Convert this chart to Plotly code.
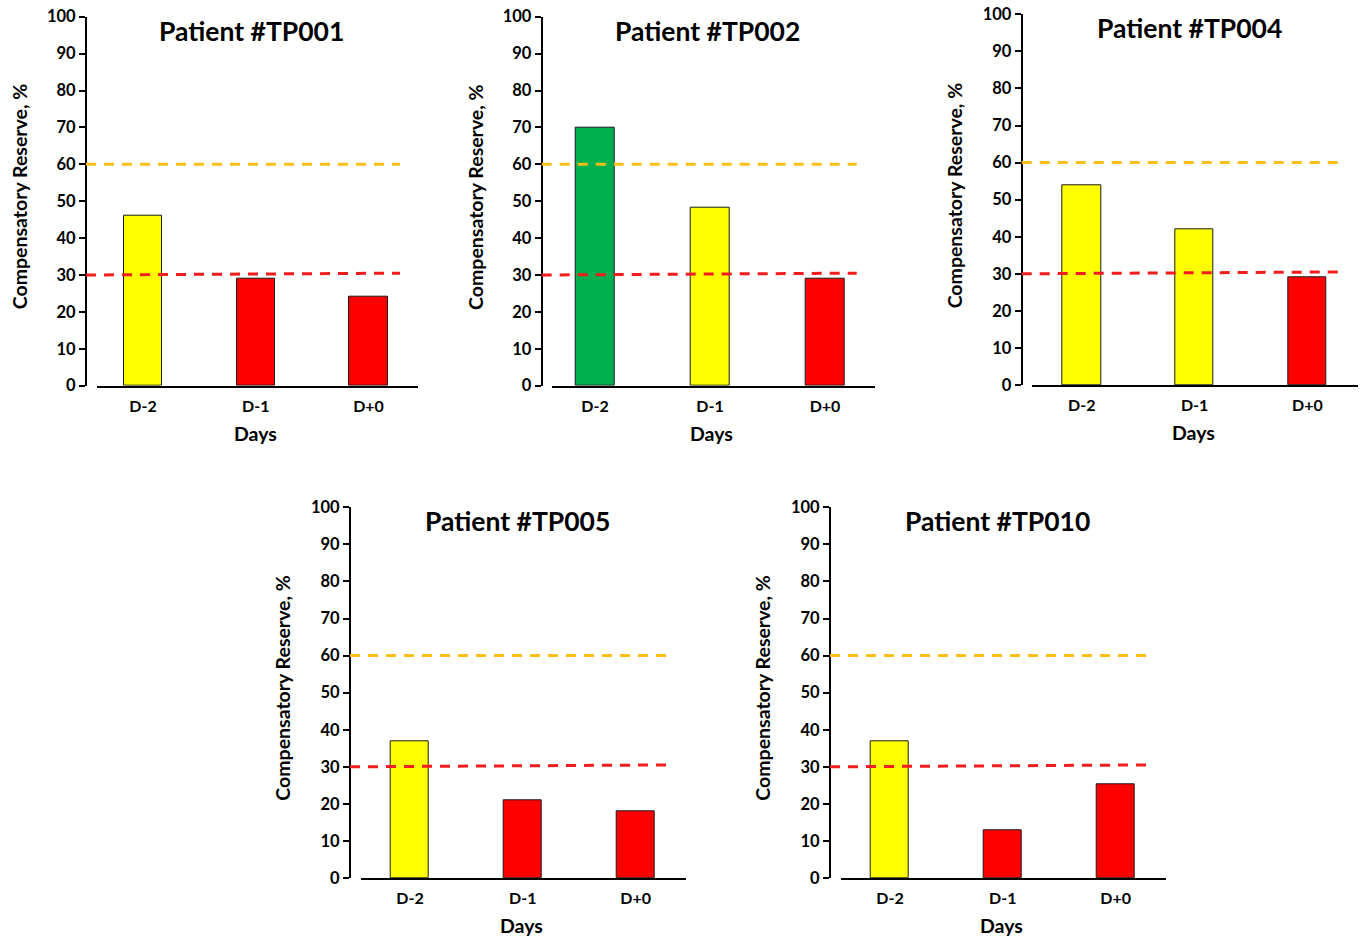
import plotly.graph_objects as go

# ---------------- data ----------------
days = ["D-2", "D-1", "D+0"]
patients = ["Patient #TP001", "Patient #TP002", "Patient #TP004", "Patient #TP005", "Patient #TP010"]
tp001 = [46.1, 29.1, 24.0]
tp002 = [70.0, 48.2, 29.1]
tp004 = [53.8, 42.1, 29.1]
tp005 = [36.8, 21.0, 17.9]
tp010 = [36.8, 12.9, 25.4]
series = [tp001, tp002, tp004, tp005, tp010]
y_ticks = [0, 10, 20, 30, 40, 50, 60, 70, 80, 90, 100]
upper_threshold = [60, 60]
lower_threshold = [30, 30.5]

# ---------------- styles / layout ----------------
W, H = 1367, 939
FONT = "Lato"
GREEN, YELLOW, RED = "#00B050", "#FFFF00", "#FF0000"
ORANGE_LINE, RED_LINE = "#FBBF16", "#F21C1C"


def bar_color(v):
    if v >= upper_threshold[0]:
        return GREEN
    if v >= lower_threshold[0]:
        return YELLOW
    return RED


# pixel geometry per panel
panels = [
    dict(yx=86, x0=97, x1=418, top=16.7, bot=385.7, lend=400, rng=(-0.408, 2.439)),
    dict(yx=541.7, x0=551.7, x1=875, top=16.7, bot=385.7, lend=856.7, rng=(-0.377, 2.435)),
    dict(yx=1021.7, x0=1032.3, x1=1357.7, top=14.3, bot=385, lend=1339.3, rng=(-0.439, 2.446)),
    dict(yx=350, x0=360.7, x1=686, top=507.3, bot=878, lend=666.7, rng=(-0.437, 2.447)),
    dict(yx=830, x0=840.7, x1=1166, top=507.3, bot=878, lend=1146.7, rng=(-0.437, 2.447)),
]

fig = go.Figure()
annotations = []
shapes = []
layout_axes = {}

for i, (name, vals, p) in enumerate(zip(patients, series, panels)):
    n = "" if i == 0 else str(i + 1)
    xa, ya = "x" + n, "y" + n
    fig.add_trace(go.Bar(
        x=[0, 1, 2], y=vals, width=0.34,
        marker=dict(color=[bar_color(v) for v in vals], line=dict(color="#1a1a1a", width=1)),
        xaxis=xa, yaxis=ya, showlegend=False, hoverinfo="x+y",
    ))
    layout_axes["xaxis" + n] = dict(
        domain=[p["x0"] / W, p["x1"] / W], anchor=ya, range=list(p["rng"]),
        tickvals=[0, 1, 2], ticktext=days, showline=True, linecolor="black", linewidth=2,
        ticks="", showgrid=False, zeroline=False, fixedrange=True, automargin=False,
        ticklabelstandoff=5,
        tickfont=dict(family=FONT, size=16, color="black", weight="bold"),
    )
    layout_axes["yaxis" + n] = dict(
        domain=[1 - p["bot"] / H, 1 - p["top"] / H], anchor="free", position=p["yx"] / W,
        range=[0, 100], tickvals=y_ticks, showline=True, linecolor="black", linewidth=2,
        ticks="outside", ticklen=6, tickwidth=2, tickcolor="black",
        showgrid=False, zeroline=False, fixedrange=True, automargin=False,
        tickfont=dict(family=FONT, size=16.5, color="black", weight="bold"),
    )
    # threshold lines
    shapes.append(dict(type="line", xref="paper", yref=ya, x0=p["yx"] / W, x1=p["lend"] / W,
                       y0=upper_threshold[0], y1=upper_threshold[1], layer="above",
                       line=dict(color=ORANGE_LINE, width=3, dash="10px,8px")))
    shapes.append(dict(type="line", xref="paper", yref=ya, x0=p["yx"] / W, x1=p["lend"] / W,
                       y0=lower_threshold[0], y1=lower_threshold[1], layer="above",
                       line=dict(color=RED_LINE, width=3, dash="10px,8px")))
    xc = (p["x0"] + p["x1"]) / 2
    # panel title
    annotations.append(dict(text="<b>" + name + "</b>", xref="paper", yref="paper",
                            x=(xc - 6) / W, y=1 - (p["top"] + 14) / H, xanchor="center", yanchor="middle",
                            showarrow=False, font=dict(family=FONT, size=26.5, color="black")))
    # y title
    annotations.append(dict(text="<b>Compensatory Reserve, %</b>", xref="paper", yref="paper",
                            x=(p["yx"] - 67) / W, y=1 - ((p["top"] + p["bot"]) / 2 - 4) / H,
                            xanchor="center", yanchor="middle", textangle=-90,
                            showarrow=False, font=dict(family=FONT, size=19.5, color="black")))
    # x title
    annotations.append(dict(text="<b>Days</b>", xref="paper", yref="paper",
                            x=(xc - 1.7) / W, y=1 - (p["bot"] + 47.5) / H,
                            xanchor="center", yanchor="middle",
                            showarrow=False, font=dict(family=FONT, size=19.5, color="black")))

fig.update_layout(
    width=W, height=H, margin=dict(l=0, r=0, t=0, b=0, autoexpand=False),
    paper_bgcolor="white", plot_bgcolor="white", showlegend=False,
    annotations=annotations, shapes=shapes, bargap=0,
    **layout_axes,
)

fig.write_html("out.html")
